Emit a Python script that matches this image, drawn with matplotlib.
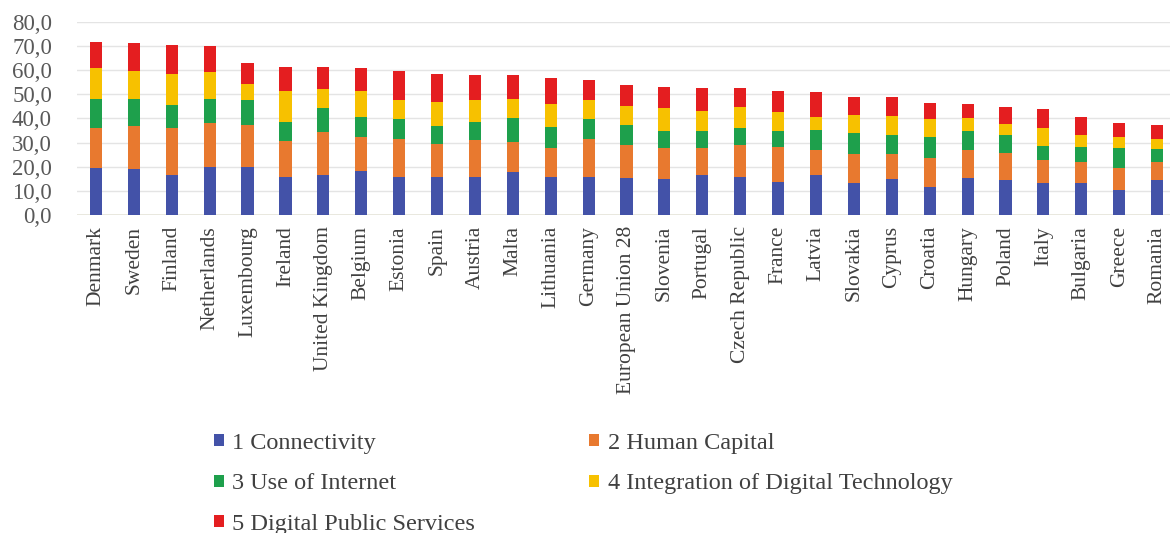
import matplotlib.pyplot as plt
from matplotlib.ticker import FuncFormatter
from matplotlib.patches import Patch
import numpy as np

plt.rcParams['font.family'] = ['Liberation Serif', 'DejaVu Serif']

# DESI dimension scores per country
countries = ["Denmark", "Sweden", "Finland", "Netherlands", "Luxembourg", "Ireland",
             "United Kingdom", "Belgium", "Estonia", "Spain", "Austria", "Malta",
             "Lithuania", "Germany", "European Union 28", "Slovenia", "Portugal",
             "Czech Republic", "France", "Latvia", "Slovakia", "Cyprus", "Croatia",
             "Hungary", "Poland", "Italy", "Bulgaria", "Greece", "Romania"]

connectivity = [19.3, 18.9, 16.6, 20.0, 20.0, 15.9, 16.6, 18.3, 15.9, 15.9, 15.9, 17.9,
                15.9, 15.9, 15.2, 14.8, 16.6, 15.9, 13.8, 16.6, 13.1, 14.8, 11.7,
                15.2, 14.5, 13.1, 13.4, 10.3, 14.5]
human_capital = [16.8, 17.9, 19.5, 18.2, 17.3, 14.9, 17.9, 13.9, 15.4, 13.5, 15.1, 12.4,
                 11.7, 15.4, 13.8, 12.8, 11.0, 13.1, 14.5, 10.3, 12.1, 10.4, 11.8,
                 11.7, 11.0, 9.7, 8.7, 9.0, 7.6]
use_of_internet = [11.8, 11.1, 9.4, 9.7, 10.3, 7.8, 9.7, 8.2, 8.4, 7.4, 7.6, 9.7,
                   8.7, 8.3, 8.3, 7.3, 7.3, 6.9, 6.6, 8.3, 8.9, 7.9, 8.9,
                   8.0, 7.6, 5.8, 5.9, 8.3, 5.1]
integration = [12.8, 11.8, 12.9, 11.4, 6.6, 12.8, 7.8, 11.0, 7.9, 10.1, 9.0, 7.9,
               9.6, 8.0, 7.8, 9.3, 8.3, 8.9, 7.9, 5.5, 7.3, 7.9, 7.2,
               5.1, 4.6, 7.3, 5.1, 4.6, 4.1]
public_services = [11.0, 11.3, 12.0, 10.6, 8.6, 10.0, 9.4, 9.3, 12.1, 11.5, 10.3, 10.0,
                   10.7, 8.3, 8.7, 8.7, 9.2, 7.6, 8.6, 10.3, 7.6, 8.0, 6.9,
                   5.9, 6.9, 7.8, 7.3, 5.8, 6.0]

series_names = ["1 Connectivity", "2 Human Capital", "3 Use of Internet",
                "4 Integration of Digital Technology", "5 Digital Public Services"]
colors = ["#4352A8", "#E8792F", "#1EA04C", "#F7C100", "#E41E20"]

series = [connectivity, human_capital, use_of_internet, integration, public_services]

fig = plt.figure(figsize=(11.7, 5.33), dpi=100)
ax = fig.add_axes([77 / 1170, 1 - 215 / 533, 1 - 77 / 1170, (215 - 21.7) / 533])

# stacked bars, one segment per dimension
x = np.arange(len(countries))
bottom = np.zeros(len(countries))
for vals, c in zip(series, colors):
    ax.bar(x, vals, width=0.32, bottom=bottom, color=c, zorder=3)
    bottom += np.array(vals)

ax.set_ylim(0, 80)
ax.set_xlim(-0.5, 28.34)
ax.set_yticks(np.arange(0, 81, 10))
ax.yaxis.set_major_formatter(FuncFormatter(lambda v, p: f"{v:.1f}".replace(".", ",")))
ax.grid(axis="y", color="#E4E4E4", lw=1.0, zorder=0)
for s in ax.spines.values():
    s.set_visible(False)
ax.axhline(0, color="#E8E6D8", lw=1.2, zorder=1)

ax.set_xticks(x)
ax.set_xticklabels(countries, rotation=90, fontsize=15.5, color="#404040")
ax.tick_params(axis="x", length=0, pad=8)
ax.tick_params(axis="y", length=0, pad=18, labelsize=16.5, labelcolor="#595959")

# legend filled row by row: reorder for matplotlib's column-major layout
handles = [Patch(facecolor=c) for c in colors]
order = [0, 2, 4, 1, 3]
fig.legend([handles[i] for i in order], [series_names[i] for i in order],
           ncol=2, frameon=False, loc="upper left", bbox_to_anchor=(214 / 1170, 1 - 433 / 533),
           fontsize=17.5, handlelength=0.4, handleheight=0.4, handletextpad=0.35,
           labelspacing=0.8, columnspacing=4.7, labelcolor="#404040",
           borderaxespad=0, borderpad=0)

fig.savefig("out.png", dpi=100)
